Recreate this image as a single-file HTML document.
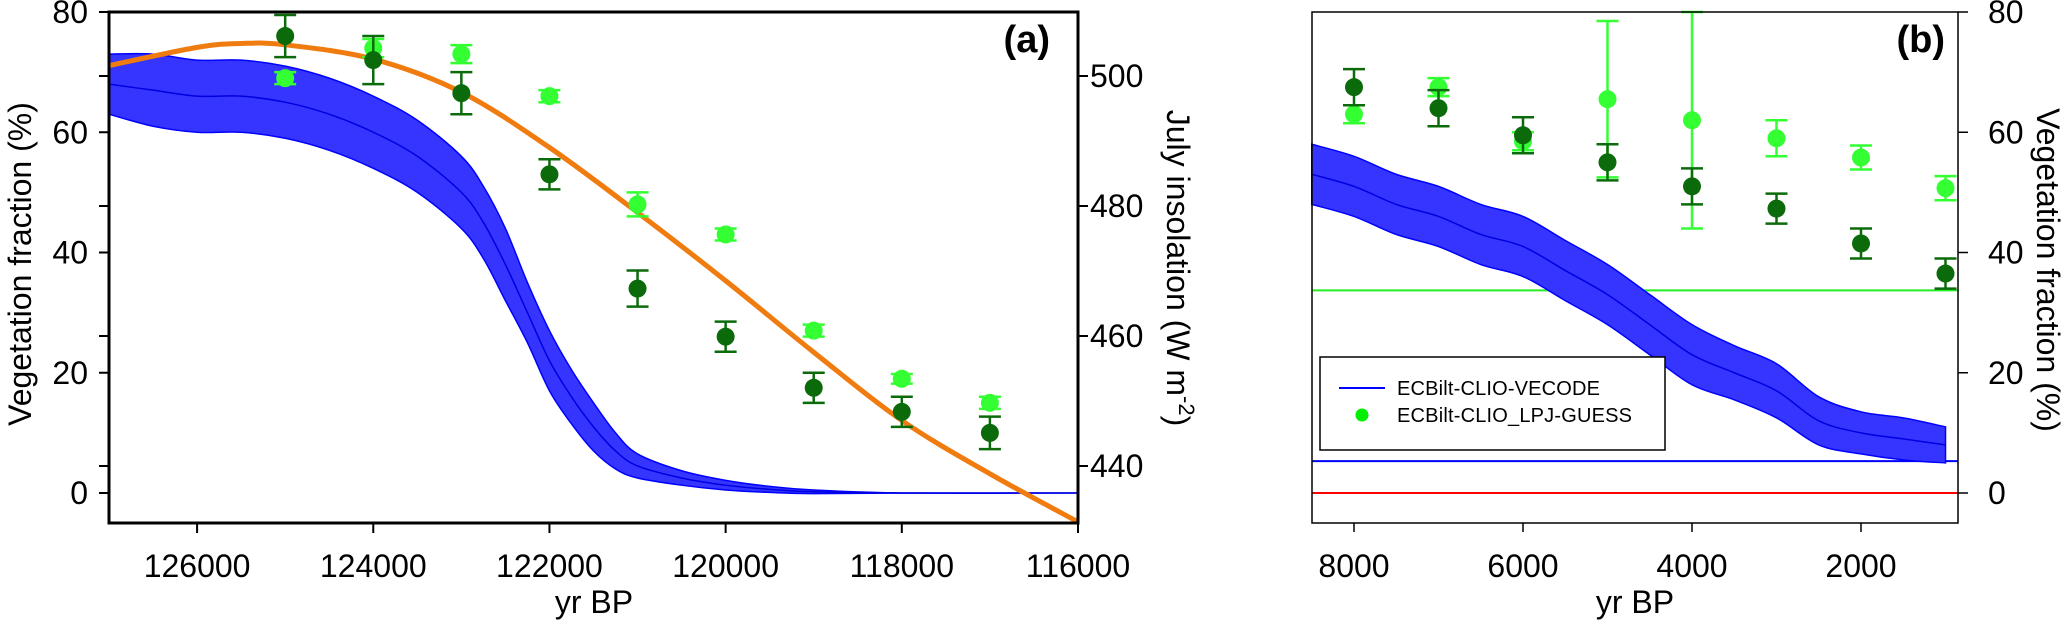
<!DOCTYPE html>
<html><head><meta charset="utf-8"><style>
html,body{margin:0;padding:0;background:#fff;}
svg{display:block;font-family:"Liberation Sans",Arial,sans-serif;}
</style></head><body>
<svg id="chart" width="2067" height="626" viewBox="0 0 2067 626" xmlns="http://www.w3.org/2000/svg">
<g id="pa"></g>
<g id="pb"></g>
</svg>
<script>
// ---------- data panel (a) ----------
const aYears = [125000,124000,123000,122000,121000,120000,119000,118000,117000];
const aDark = [76,72,66.5,53,34,26,17.5,13.5,10];
const aDarkErr = [3.5,4,3.5,2.5,3,2.5,2.5,2.5,2.7];
const aLight = [69,74,73,66,48,43,27,19,15];
const aLightErr = [1,1.5,1.5,1,2,1,1,0.8,1];
const aBlueYears = [127000,126500,126000,125500,125000,124500,124000,123500,123000,122750,122500,122250,122000,121750,121500,121250,121000,120500,120000,119500,119000,118000,116000];
const aBlueMean = [68,67,66,66,65,63,60,56,50,45,38,30,22,16,11,7,4.5,2.5,1.3,0.6,0.2,0,0];
const aBlueAmp = [5,6,6,6,6,6,6,6,6,6,6,5,5,4.5,4,3,2,1.2,0.8,0.5,0.3,0,0];
const insYears = [127000,126000,125500,125000,124000,123000,122000,121000,120000,119000,118000,117000,116000];
const insValues = [501.6,504.4,505,504.8,502.6,497.5,489,479,468.5,457.5,447,438.8,431.4];
const aXTicks = [126000,124000,122000,120000,118000,116000];
const aYTicks = [0,20,40,60,80];
const insTicks = [440,460,480,500];
// ---------- data panel (b) ----------
const bYears = [8000,7000,6000,5000,4000,3000,2000,1000];
const bDark = [67.5,64,59.5,55,51,47.3,41.5,36.5];
const bDarkErr = [3,3,3,3,3,2.5,2.5,2.5];
const bLight = [63,67.5,58.5,65.5,62,59,55.8,50.7];
const bLightErr = [1.5,1.5,1.5,13,18,3,2,2];
const bBlueYears = [8500,8000,7500,7000,6500,6000,5500,5000,4500,4000,3500,3000,2500,2000,1500,1000];
const bBlueMean = [53,51,48,46,43,41,37,33,28,23,20,17,12,10,9,8];
const bBlueAmp = [5,5,5,5,5,5,5,5,5,5,4.5,4.5,4,3.5,3.5,3];
const bHLines = [33.7,5.3,0];
const bXTicks = [8000,6000,4000,2000];
const bYTicks = [0,20,40,60,80];

const NS="http://www.w3.org/2000/svg";
function mk(tag,attrs,parent,text){const e=document.createElementNS(NS,tag);for(const k in attrs)e.setAttribute(k,attrs[k]);if(text!==undefined)e.textContent=text;parent.appendChild(e);return e;}

const yV = v => 493 - v*6.0125;
const yIns = v => 76 + (500-v)*6.5;
const xA = t => 109 + (127000-t)*0.08809;
const xB = t => 1354 + (8000-t)*0.0845;

const DARK="#0b6b0b", LIGHT="#33ff33";

function smoothPath(pts){
  let d='M'+pts[0][0]+','+pts[0][1];
  for(let i=0;i<pts.length-1;i++){
    const p0=pts[Math.max(0,i-1)],p1=pts[i],p2=pts[i+1],p3=pts[Math.min(pts.length-1,i+2)];
    const c1x=p1[0]+(p2[0]-p0[0])/6,c1y=p1[1]+(p2[1]-p0[1])/6;
    const c2x=p2[0]-(p3[0]-p1[0])/6,c2y=p2[1]-(p3[1]-p1[1])/6;
    d+=' C'+c1x+','+c1y+' '+c2x+','+c2y+' '+p2[0]+','+p2[1];
  }
  return d;
}
function errPoint(g,x,v,err,col,name){
  const grp=mk('g',{},g);
  
  
  mk('line',{x1:x,x2:x,y1:yV(v+err),y2:yV(v-err),stroke:col,'stroke-width':2.5},grp);
  mk('line',{x1:x-11,x2:x+11,y1:yV(v+err),y2:yV(v+err),stroke:col,'stroke-width':2.5},grp);
  mk('line',{x1:x-11,x2:x+11,y1:yV(v-err),y2:yV(v-err),stroke:col,'stroke-width':2.5},grp);
  mk('circle',{cx:x,cy:yV(v),r:9,fill:col},grp);
}
function band(g,xs,mean,amp,xf,name){
  const up=xs.map((t,i)=>[xf(t),yV(mean[i]+amp[i])]);
  const lo=xs.map((t,i)=>[xf(t),yV(mean[i]-amp[i])]).reverse();
  const d=smoothPath(up)+' L'+lo[0][0]+','+lo[0][1]+smoothPath(lo).slice(1).replace(/^[^C]*/,' ')+' Z';
  const p=mk('path',{d:d,fill:'#3535ff',stroke:'#0000ff','stroke-width':1.5},g);
  
  
  const mid=xs.map((t,i)=>[xf(t),yV(mean[i])]);
  const l=mk('path',{d:smoothPath(mid),fill:'none',stroke:'#0000e0','stroke-width':1.5},g);
  
  
}

// ---------- panel (a) ----------
const pa=document.getElementById('pa');
band(pa,aBlueYears,aBlueMean,aBlueAmp,xA,'vecode-series-a');
const orange=mk('path',{d:smoothPath(insYears.map((t,i)=>[xA(t),yIns(insValues[i])])),fill:'none',stroke:'#f07c10','stroke-width':5},pa);


aYears.forEach((t,i)=>{errPoint(pa,xA(t),aLight[i],aLightErr[i],LIGHT,'lpj-point-a');errPoint(pa,xA(t),aDark[i],aDarkErr[i],DARK,'pollen-point-a');});
const boxA=mk('rect',{x:109,y:12,width:969,height:511,fill:'none',stroke:'#000','stroke-width':3},pa);


aYTicks.forEach(v=>{
  mk('line',{x1:99,x2:109,y1:yV(v),y2:yV(v),stroke:'#000','stroke-width':2},pa);
  const t=mk('text',{x:88,y:yV(v)+11,'text-anchor':'end','font-size':32},pa,String(v));
  
  
});
insTicks.forEach(v=>{
  mk('line',{x1:99,x2:109,y1:yIns(v),y2:yIns(v),stroke:'#000','stroke-width':2},pa);
  mk('line',{x1:1078,x2:1088,y1:yIns(v),y2:yIns(v),stroke:'#000','stroke-width':2},pa);
  const t=mk('text',{x:1090,y:yIns(v)+11,'font-size':32},pa,String(v));
  
  
});
aXTicks.forEach(v=>{
  mk('line',{x1:xA(v),x2:xA(v),y1:523,y2:533,stroke:'#000','stroke-width':2},pa);
  const t=mk('text',{x:xA(v),y:577,'text-anchor':'middle','font-size':32},pa,String(v));
  
  
});

// ---------- panel (b) ----------
const pb=document.getElementById('pb');
const hCols=['#22ee22','#0000ff','#ff0000'];
bHLines.forEach((v,i)=>{
  const l=mk('line',{x1:1312,x2:1958,y1:yV(v),y2:yV(v),stroke:hCols[i],'stroke-width':2},pb);
  
  
});
band(pb,bBlueYears,bBlueMean,bBlueAmp,xB,'vecode-series-b');
bYears.forEach((t,i)=>{errPoint(pb,xB(t),bLight[i],bLightErr[i],LIGHT,'lpj-point-b');errPoint(pb,xB(t),bDark[i],bDarkErr[i],DARK,'pollen-point-b');});
const boxB=mk('rect',{x:1312,y:12,width:646,height:511,fill:'none',stroke:'#000','stroke-width':1.5},pb);


bYTicks.forEach(v=>{
  mk('line',{x1:1958,x2:1968,y1:yV(v),y2:yV(v),stroke:'#000','stroke-width':1.5},pb);
  const t=mk('text',{x:1988,y:yV(v)+11,'font-size':32},pb,String(v));
  
  
});
bXTicks.forEach(v=>{
  mk('line',{x1:xB(v),x2:xB(v),y1:523,y2:532,stroke:'#000','stroke-width':1.5},pb);
  const t=mk('text',{x:xB(v),y:577,'text-anchor':'middle','font-size':32},pb,String(v));
  
  
});

// ---------- titles & legend ----------
const svg=document.getElementById('chart');
const labels=[
 [{x:594,y:613,'text-anchor':'middle','font-size':32},'yr BP','x-axis-title-a'],
 [{x:1635,y:613,'text-anchor':'middle','font-size':32},'yr BP','x-axis-title-b'],
 [{x:0,y:0,'text-anchor':'middle','font-size':32,transform:'translate(31,264) rotate(-90)'},'Vegetation fraction (%)','y-axis-title-a'],
 [{x:0,y:0,'text-anchor':'middle','font-size':32,transform:'translate(2037,270) rotate(90)'},'Vegetation fraction (%)','y-axis-title-b'],
 [{x:1050,y:52,'text-anchor':'end','font-size':38,'font-weight':'bold'},'(a)','panel-label-a'],
 [{x:1945,y:52,'text-anchor':'end','font-size':38,'font-weight':'bold'},'(b)','panel-label-b']
];
labels.forEach(a=>{const t=mk('text',a[0],svg,a[1]);});
const it=mk('text',{x:0,y:0,'text-anchor':'middle','font-size':32,transform:'translate(1167,268) rotate(90)'},svg);


mk('tspan',{},it,'July insolation (W m');
mk('tspan',{'font-size':22,dy:-12},it,'-2');
mk('tspan',{dy:12},it,')');
const lg=mk('g',{},svg);


mk('rect',{x:1320,y:357,width:345,height:93,fill:'#fff',stroke:'#000','stroke-width':1.5},lg);
mk('line',{x1:1339,x2:1385,y1:388,y2:388,stroke:'#0000ff','stroke-width':2},lg);
mk('circle',{cx:1362,cy:415,r:6.5,fill:'#00ee00'},lg);
const l1=mk('text',{x:1397,y:395,'font-size':20,textLength:203},lg,'ECBilt-CLIO-VECODE');


const l2=mk('text',{x:1397,y:422,'font-size':20,textLength:235},lg,'ECBilt-CLIO_LPJ-GUESS');


</script>
</body></html>
